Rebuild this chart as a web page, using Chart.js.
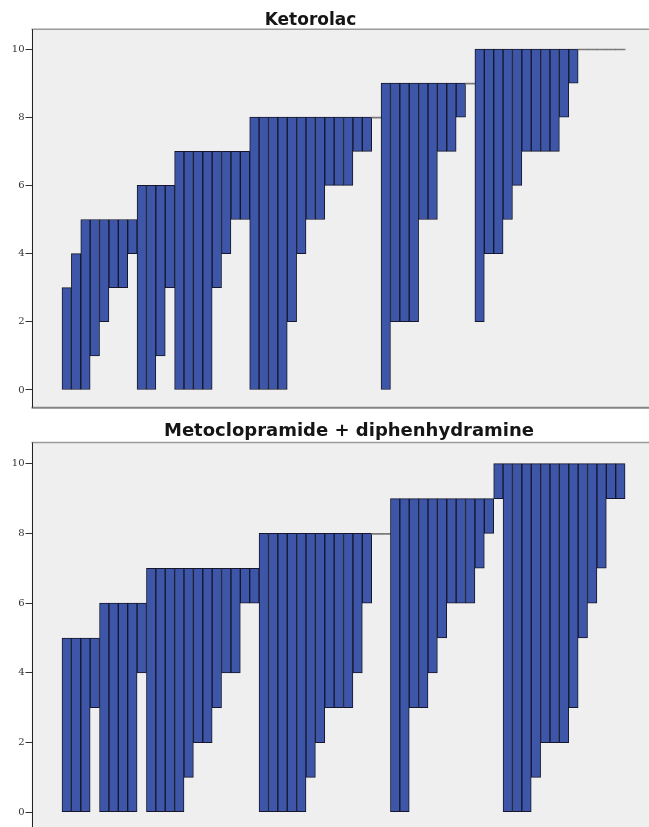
<!DOCTYPE html>
<html><head><meta charset="utf-8">
<script src="https://cdn.jsdelivr.net/npm/chart.js@4"></script>
<style>
html,body{margin:0;padding:0;background:#fff;overflow:hidden;}
#wrap{position:relative;width:649px;height:827px;overflow:hidden;background:#fff;}
.c{position:absolute;left:0;}
#box1{top:0;}
#box2{top:410px;}
</style></head><body>
<div id="wrap">
<div class="c" id="box1"><canvas id="chart1" width="649" height="420"></canvas></div>
<div class="c" id="box2"><canvas id="chart2" width="649" height="430"></canvas></div>
</div>
<script>
// ---- data (pain score: low = after, high = before) ----
const yTickValues = [0, 2, 4, 6, 8, 10];

const ketorolacTitle = 'Ketorolac';
const ketorolacLow  = [0,0,0,1,2,3,3,4, 0,0,1,3, 0,0,0,0,3,4,5,5,
                       0,0,0,0,2,4,5,5,6,6,6,7,7,8,
                       0,2,2,2,5,5,7,7,8,9,
                       2,4,4,5,6,7,7,7,7,8,9,10,10,10,10,10];
const ketorolacHigh = [3,4,5,5,5,5,5,5, 6,6,6,6, 7,7,7,7,7,7,7,7,
                       8,8,8,8,8,8,8,8,8,8,8,8,8,8,
                       9,9,9,9,9,9,9,9,9,9,
                       10,10,10,10,10,10,10,10,10,10,10,10,10,10,10,10];

const metoTitle = 'Metoclopramide + diphenhydramine';
const metoLow  = [0,0,0,3, 0,0,0,0,4, 0,0,0,0,1,2,2,3,4,4,6,6,
                  0,0,0,0,0,1,2,3,3,3,4,6,8,8,
                  0,0,3,3,4,5,6,6,6,7,8,
                  9,0,0,0,1,2,2,2,3,5,6,7,9,9];
const metoHigh = [5,5,5,5, 6,6,6,6,6, 7,7,7,7,7,7,7,7,7,7,7,7,
                  8,8,8,8,8,8,8,8,8,8,8,8,8,8,
                  9,9,9,9,9,9,9,9,9,9,9,
                  10,10,10,10,10,10,10,10,10,10,10,10,10,10];

// ---- styling ----
const BAR_FILL = '#3d56a8';
const BAR_EDGE = '#16162c';
const ZERO_EDGE = '#7a7a7a';

const framePlugin = {
  id: 'frame',
  beforeDraw(chart) {
    const {ctx, chartArea: a} = chart;
    ctx.save();
    ctx.fillStyle = '#efefef';
    ctx.fillRect(a.left, a.top, chart.width - a.left, a.bottom - a.top);
    ctx.restore();
  },
  afterDraw(chart) {
    const {ctx, chartArea: a} = chart;
    ctx.save();
    ctx.strokeStyle = '#9a9a9a';
    ctx.lineWidth = 1.5;
    ctx.beginPath(); ctx.moveTo(a.left, a.top); ctx.lineTo(chart.width, a.top); ctx.stroke();
    ctx.strokeStyle = '#858585';
    ctx.lineWidth = 2;
    ctx.beginPath(); ctx.moveTo(a.left, a.bottom); ctx.lineTo(chart.width, a.bottom); ctx.stroke();
    ctx.strokeStyle = '#222';
    ctx.lineWidth = 1;
    ctx.beginPath(); ctx.moveTo(Math.round(a.left) + 0.5, a.top); ctx.lineTo(Math.round(a.left) + 0.5, a.bottom); ctx.stroke();
    ctx.restore();
  }
};

const titleShift = {
  id: 'titleShift',
  afterLayout(chart, args, o) {
    const tb = chart.titleBlock;
    if (tb && o && o.center != null) {
      const half = (tb.right - tb.left) / 2;
      tb.left = o.center - half;
      tb.right = o.center + half;
    }
  }
};

function isZero(ctx) {
  const r = ctx.raw;
  return Array.isArray(r) && r[0] === r[1];
}

function makeChart(id, title, low, high, cfg) {
  const labels = low.map((_, i) => i + 1);
  const data = low.map((v, i) => [v, high[i]]);
  return new Chart(document.getElementById(id), {
    type: 'bar',
    data: {
      labels,
      datasets: [{
        data,
        backgroundColor: c => isZero(c) ? ZERO_EDGE : BAR_FILL,
        borderColor: BAR_EDGE,
        borderWidth: c => isZero(c) ? 0 : 1,
        borderSkipped: false,
        minBarLength: 1,
        barPercentage: 1,
        categoryPercentage: 1
      }]
    },
    options: {
      responsive: false,
      animation: false,
      layout: {padding: {top: 0, left: 0, right: 0, bottom: cfg.padBottom}},
      plugins: {
        legend: {display: false},
        tooltip: {enabled: false},
        title: {
          display: true,
          text: title,
          color: '#151515',
          font: {family: 'DejaVu Sans', size: cfg.titleSize, weight: 'bold', lineHeight: 1},
          padding: {top: cfg.titleTop, bottom: cfg.titleBottom}
        },
        titleShift: {center: cfg.titleCenter}
      },
      scales: {
        x: {
          type: 'linear',
          display: false,
          offset: false,
          min: -2.75,
          max: 63.05
        },
        y: {
          min: cfg.yMin,
          max: cfg.yMax,
          afterFit: s => { s.width = 31.5; },
          afterBuildTicks: s => { s.ticks = yTickValues.map(v => ({value: v})); },
          border: {display: false},
          grid: {display: true, drawOnChartArea: false, drawTicks: true, tickLength: 6, color: '#333', lineWidth: 1},
          ticks: {
            color: '#333',
            padding: 1,
            font: {family: 'DejaVu Serif', size: 10}
          }
        }
      }
    },
    plugins: [framePlugin, titleShift]
  });
}

makeChart('chart1', ketorolacTitle, ketorolacLow, ketorolacHigh, {
  padBottom: 12.3, titleSize: 17, titleTop: 12.3, titleBottom: 0,
  titleCenter: 310.5, yMin: -0.52, yMax: 10.578
});
makeChart('chart2', metoTitle, metoLow, metoHigh, {
  padBottom: 10, titleSize: 18, titleTop: 12.7, titleBottom: 1.8,
  titleCenter: 349, yMin: -0.508, yMax: 10.608
});
</script>
</body></html>
